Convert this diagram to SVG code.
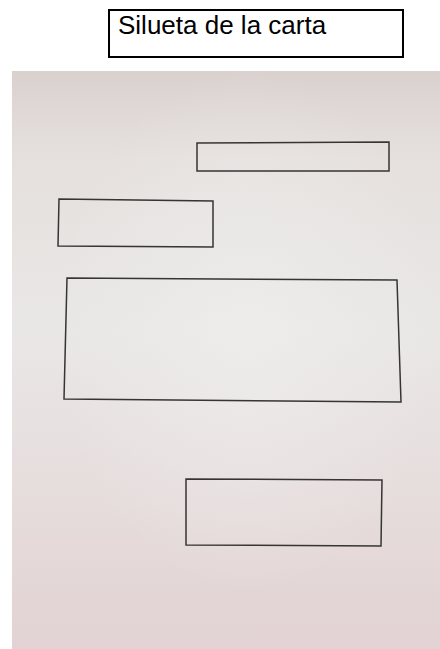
<svg xmlns="http://www.w3.org/2000/svg" width="440" height="649" viewBox="0 0 440 649">
  <style>
    .sketch { fill: none; stroke: #363434; stroke-width: 1.5; stroke-linejoin: miter; }
    .label-box { fill: #ffffff; stroke: #000000; stroke-width: 2; }
    .label { font-family: "Liberation Sans", Arial, sans-serif; font-size: 26px; fill: #000000; }
  </style>
  <defs>
    <linearGradient id="paper" x1="0" y1="0" x2="0" y2="1">
      <stop offset="0" stop-color="#dad1cf"/>
      <stop offset="0.15" stop-color="#e5e0de"/>
      <stop offset="0.45" stop-color="#e9e7e6"/>
      <stop offset="0.75" stop-color="#e6dcdc"/>
      <stop offset="1" stop-color="#e2d2d3"/>
    </linearGradient>
    <radialGradient id="glare" cx="0.55" cy="0.45" r="0.45">
      <stop offset="0" stop-color="#f0f0ef" stop-opacity="0.6"/>
      <stop offset="1" stop-color="#f0f0ef" stop-opacity="0"/>
    </radialGradient>
  </defs>
  <rect x="0" y="0" width="440" height="649" fill="#ffffff"/>
  <g id="photo">
    <rect x="12" y="71" width="428" height="578" fill="url(#paper)"/>
    <rect x="12" y="71" width="428" height="578" fill="url(#glare)"/>
  </g>
  <g id="title">
    <rect class="label-box" x="109" y="10" width="294" height="47"/>
    <text class="label" x="118" y="34">Silueta de la carta</text>
  </g>
  <g id="rect-top-right">
    <polygon class="sketch" points="197,143 389,142 389,171 197,171"/>
  </g>
  <g id="rect-left">
    <polygon class="sketch" points="59,199 213,201 213,247 58,246"/>
  </g>
  <g id="rect-large">
    <polygon class="sketch" points="67,278 397,280 401,402 64,399"/>
  </g>
  <g id="rect-bottom">
    <polygon class="sketch" points="186,479 382,480 381,546 186,545"/>
  </g>
  <g id="connectors"></g>
</svg>
